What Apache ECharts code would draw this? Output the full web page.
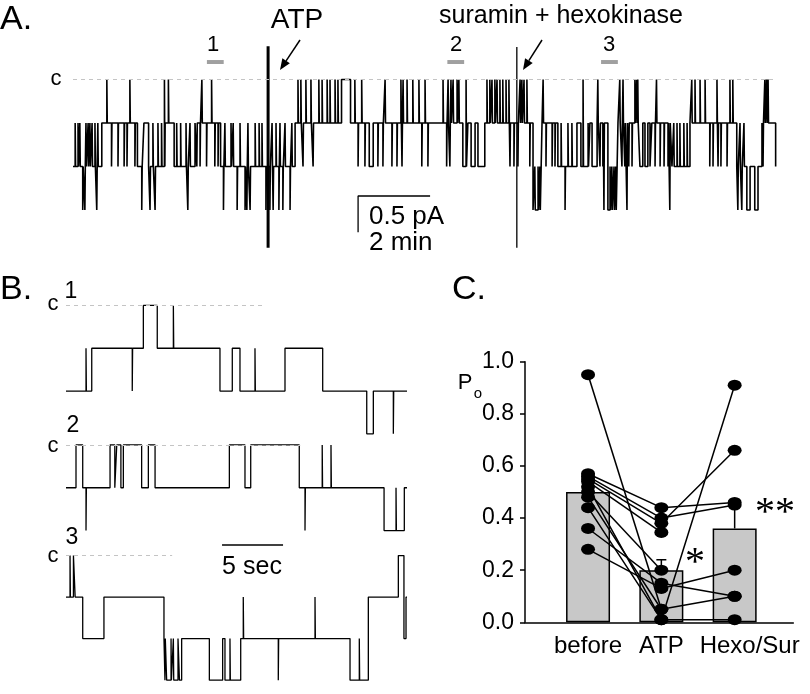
<!DOCTYPE html>
<html><head><meta charset="utf-8">
<script src="https://cdn.jsdelivr.net/npm/echarts@6/dist/echarts.min.js"></script>
<style>html,body{margin:0;padding:0;background:#fff}#c{width:810px;height:694px}</style>
</head><body><div id="c"></div>
<script>
// ================= DATA =================
// Panel A: cell-attached recording, time in minutes, level = number of open channels
const levelsA = [0, -0.6, -1.2, -1.8];            // current (pA) of each level
const dwellA = [[0,2],[0.80,1],[1.79,2],[1.97,1],[2.10,2],[2.56,1],[2.81,2],[3.39,1],[4.10,2],[6.17,1],[7.46,0],[7.71,1],[8.23,2],[8.34,1],[10.83,2],[10.97,1],[11.06,2],[11.17,1],[11.25,2],[11.44,1],[12.78,3],[13.03,1],[13.47,2],[14.00,1],[14.11,2],[14.36,1],[14.42,2],[14.56,1],[14.86,3],[15.14,1],[15.75,2],[15.83,1],[15.89,2],[15.97,1],[16.03,2],[16.08,1],[16.64,2],[17.14,1],[18.44,2],[18.72,3],[18.81,2],[18.94,3],[19.03,2],[19.14,1],[19.52,2],[19.53,2]];
const spikesA = [[0.06,1],[0.14,1],[0.19,1],[0.27,3],[0.33,3],[0.36,1],[0.42,1],[0.47,1],[0.53,1],[0.61,1],[0.66,3],[0.69,1],
  [0.94,0],[1.07,2],[1.25,2],[1.42,2],[1.50,2],[1.58,0],[1.72,2],[1.91,3],
  [2.14,3],[2.22,1],[2.28,3],[2.36,1],[2.46,1],[2.54,0],[2.65,0],
  [2.88,1],[2.99,1],[3.14,1],[3.19,3],[3.25,1],
  [3.44,2],[3.53,2],[3.58,0],[3.71,2],[3.85,0],[3.94,2],[4.03,2],
  [4.18,3],[4.22,1],[4.39,1],[4.45,1],[4.56,3],[4.64,1],[4.78,3],[4.83,3],[4.86,1],[4.92,3],[5.06,1],[5.17,1],[5.25,1],[5.36,3],[5.47,3],[5.53,1],[5.56,3],[5.64,1],[5.72,3],[5.75,1],[5.83,3],[5.89,1],[6.03,3],[6.08,1],
  [6.25,0],[6.33,0],[6.39,2],[6.47,0],[6.61,0],[6.67,2],[6.83,0],[6.92,0],[7.06,0],[7.14,0],[7.28,0],[7.36,0],
  [7.83,0],[7.92,2],[8.02,0],[8.11,2],
  [8.47,2],[8.61,2],[8.67,0],[8.86,2],[9.00,2],[9.11,0],[9.14,2],[9.17,0],[9.28,0],[9.44,0],[9.61,0],[9.69,2],[9.78,0],[9.86,2],[10.28,0],[10.38,2],[10.42,0],[10.47,2],[10.50,0],[10.56,0],[10.67,0],[10.72,0],[10.92,0],
  [11.50,0],[11.58,0],[11.64,0],[11.72,0],[11.78,0],[11.86,0],[11.94,0],[12.03,0],[12.11,0],[12.14,2],[12.25,2],[12.36,2],[12.42,0],[12.47,0],[12.53,0],[12.61,0],[12.69,2],
  [12.83,2],[12.92,2],[12.97,2],
  [13.06,0],[13.14,2],[13.31,2],[13.39,2],
  [13.56,1],[13.67,3],[13.75,1],[13.86,1],
  [14.17,0],[14.31,1],
  [14.58,0],[14.64,2],[14.72,2],[14.75,3],
  [14.92,2],[14.97,2],[15.03,2],[15.08,2],
  [15.19,0],[15.25,2],[15.28,0],[15.33,2],[15.39,3],[15.44,2],[15.53,2],[15.61,0],[15.66,0],[15.69,0],
  [16.17,2],[16.21,0],[16.31,2],[16.42,2],[16.53,2],[16.58,3],
  [16.69,1],[16.78,1],[16.86,1],[16.97,1],[17.06,1],
  [17.19,0],[17.28,0],[17.42,0],[17.56,0],[17.69,2],[17.78,2],[17.89,0],[17.92,2],[18.00,2],[18.17,2],[18.25,0],[18.33,0],
  [18.47,3],[18.53,1],[18.58,3],[18.64,1],
  [19.17,2],[19.22,0],[19.27,0],[19.31,0]];
const artifactsA = [[5.42, 0.46, -2.32, 3], [12.33, 0.45, -2.32, 1.3]]; // time, top pA, bottom pA, stroke
const windowStartsA = [3.72, 10.40, 14.67];  // start (min) of the expanded stretches 1,2,3
const windowNames = ['1', '2', '3'];
const windowLenSec = 28;
const scaleA = { minutes: 2, pA: 0.5 };

// Panel B: expanded stretches, time in seconds
const levelsB = [0, -0.6, -1.2, -1.8];
const dwellB1 = [[0,2],[2.11,1],[6.34,0],[7.48,1],[12.62,2],[13.63,1],[14.26,2],[17.95,1],[21.04,2],[24.65,3],[25.19,2],[27.95,2]];
const spikesB1 = [[1.64,1],[5.43,2],[8.80,0],[15.49,1],[26.83,3]];
const dwellB2 = [[0,1],[0.82,0],[1.37,1],[3.61,0],[4.00,1],[4.16,0],[4.50,1],[4.70,0],[6.20,1],[6.75,0],[7.30,1],[13.39,0],[14.67,1],[15.14,0],[19.12,1],[26.07,2],[27.73,1],[27.95,1]];
const spikesB2 = [[1.64,2],[19.59,2],[21.00,0],[21.72,0],[27.05,1]];
const dwellB3 = [[0,1],[0.61,0],[0.75,1],[1.37,2],[3.11,1],[8.03,2],[8.25,3],[9.18,2],[9.30,3],[9.48,2],[11.75,3],[12.84,2],[13.03,3],[14.32,2],[23.28,3],[24.78,1],[27.24,0],[27.70,2],[27.87,1],[27.95,1]];
const spikesB3 = [[0.33,0],[8.11,3],[8.61,2],[8.80,2],[13.44,2],[14.53,1],[17.40,3],[20.41,1],[24.04,2]];
const dashEndB = [16.3, 19.2, 8.7];
const scaleB = { seconds: 5 };

// Panel C: open probability
const groups = ['before', 'ATP', 'Hexo/Sur'];
const meanPo = [0.50, 0.20, 0.36];
const semPo = [0.05, 0.04, 0.08];
const poBefore = [0.57, 0.56, 0.55, 0.54, 0.95, 0.52, 0.50, 0.48, 0.44, 0.36, 0.28];
const poATP    = [0.44, 0.40, 0.38, 0.345, 0.05, 0.01, 0.20, 0.05, 0.01, 0.15, 0.13];
const poHexo   = [0.46, 0.45, 0.66, null, null, 0.91, null, 0.10, 0.01, 0.10, 0.20];
const poTicks = [0, 0.2, 0.4, 0.6, 0.8, 1.0];

// ================= BUILD =================
const FF = 'Liberation Sans, Arial, sans-serif';
function buildTrace(dwell, spikes, levels, dur) {
  const ev = dwell.map(d => [d[0], d[1]]);
  spikes.forEach(s => {
    let base = dwell[0][1];
    for (const d of dwell) { if (d[0] <= s[0]) base = d[1]; else break; }
    ev.push([s[0], s[1]]); ev.push([s[0] + dur, base]);
  });
  ev.sort((a, b) => a[0] - b[0]);
  return ev.map(e => [e[0], levels[e[1]]]);
}
const grids = [
  { left: 73, top: 36, width: 703, height: 232 },          // A
  { left: 66, top: 291.2, width: 341, height: 156.9 },     // B1
  { left: 66, top: 430.7, width: 341, height: 156.9 },     // B2
  { left: 66, top: 541.7, width: 341, height: 156.9 },     // B3
  { left: 525, top: 361.7, width: 268.3, height: 260.6 }   // C
];
const xAxes = [
  { gridIndex: 0, type: 'value', min: 0, max: 19.53, show: false },
  { gridIndex: 1, type: 'value', min: 0, max: 27.95, show: false },
  { gridIndex: 2, type: 'value', min: 0, max: 27.95, show: false },
  { gridIndex: 3, type: 'value', min: 0, max: 27.95, show: false },
  { gridIndex: 4, type: 'value', min: 0.14, max: 3.8, splitLine: { show: false },
    axisLine: { lineStyle: { color: '#000', width: 1.5 } }, axisTick: { show: false },
    axisLabel: { customValues: [1, 2, 3], margin: 12, color: '#000', fontSize: 24, fontFamily: FF,
      formatter: v => v === 3 ? '{h|' + groups[2] + '}' : groups[Math.round(v) - 1],
      rich: { h: { fontSize: 24, fontFamily: FF, color: '#000', padding: [0, 0, 0, 30] } } } }
];
const yAxes = [
  { gridIndex: 0, type: 'value', min: -2.6, max: 0.6, show: false },
  { gridIndex: 1, type: 'value', min: -2.0, max: 0.2, show: false },
  { gridIndex: 2, type: 'value', min: -2.0, max: 0.2, show: false },
  { gridIndex: 3, type: 'value', min: -2.0, max: 0.2, show: false },
  { gridIndex: 4, type: 'value', min: 0, max: 1, interval: 0.2, splitLine: { show: false },
    axisLine: { show: true, lineStyle: { color: '#000', width: 1.5 } },
    axisTick: { show: true, length: 5, lineStyle: { color: '#000', width: 1.5 } },
    axisLabel: { customValues: poTicks, margin: 11, color: '#000', fontSize: 23, fontFamily: FF, formatter: v => v.toFixed(1) } }
];
const series = [];
const dashStyle = { color: '#c4c4c4', width: 1, type: [4, 4] };
// Panel A trace
series.push({ type: 'line', xAxisIndex: 0, yAxisIndex: 0, step: 'end', showSymbol: false, silent: true,
  data: buildTrace(dwellA, spikesA, levelsA, 0.012), lineStyle: { color: '#000', width: 1.6 },
  markLine: { silent: true, symbol: 'none', label: { show: false }, lineStyle: dashStyle, data: [{ yAxis: levelsA[0] }] } });
artifactsA.forEach(a => series.push({ type: 'line', xAxisIndex: 0, yAxisIndex: 0, showSymbol: false, silent: true,
  data: [[a[0], a[1]], [a[0], a[2]]], lineStyle: { color: '#000', width: a[3] } }));
windowStartsA.forEach(t => series.push({ type: 'line', xAxisIndex: 0, yAxisIndex: 0, showSymbol: false, silent: true,
  data: [[t, 0.241], [t + windowLenSec / 60, 0.241]], lineStyle: { color: '#a0a0a0', width: 4, cap: 'butt' } }));
series.push({ type: 'line', xAxisIndex: 0, yAxisIndex: 0, showSymbol: false, silent: true,
  data: [[7.92, -1.607 - scaleA.pA], [7.92, -1.607], [7.92 + scaleA.minutes, -1.607]], lineStyle: { color: '#000', width: 1.3 } });
// Panel B traces
[[dwellB1, spikesB1], [dwellB2, spikesB2], [dwellB3, spikesB3]].forEach((tr, i) => {
  series.push({ type: 'line', xAxisIndex: i + 1, yAxisIndex: i + 1, step: 'end', showSymbol: false, silent: true,
    data: buildTrace(tr[0], tr[1], levelsB, 0.03), lineStyle: { color: '#000', width: 1.3 },
    markLine: { silent: true, symbol: 'none', label: { show: false }, lineStyle: dashStyle,
      data: [[{ coord: [0, levelsB[0]] }, { coord: [dashEndB[i], levelsB[0]] }]] } });
});
series.push({ type: 'line', xAxisIndex: 3, yAxisIndex: 3, showSymbol: false, silent: true,
  data: [[12.79, 0.154], [12.79 + scaleB.seconds, 0.154]], lineStyle: { color: '#000', width: 1.5 } });
// Panel C
series.push({ type: 'bar', xAxisIndex: 4, yAxisIndex: 4, barWidth: 44, silent: true,
  data: meanPo.map((m, i) => [i + 1, m]), itemStyle: { color: '#c8c8c8', borderColor: '#000', borderWidth: 1.5 } });
series.push({ type: 'custom', xAxisIndex: 4, yAxisIndex: 4, silent: true, encode: { x: 0, y: [1, 2] },
  data: meanPo.map((m, i) => [i + 1, m, m + semPo[i]]),
  renderItem: (params, api) => {
    const p0 = api.coord([api.value(0), api.value(1)]), p1 = api.coord([api.value(0), api.value(2)]);
    const st = { stroke: '#000', lineWidth: 1.5 };
    return { type: 'group', children: [
      { type: 'line', shape: { x1: p0[0], y1: p0[1], x2: p1[0], y2: p1[1] }, style: st },
      { type: 'line', shape: { x1: p1[0] - 5, y1: p1[1], x2: p1[0] + 5, y2: p1[1] }, style: st } ] };
  } });
poBefore.forEach((b, i) => {
  const pts = [[1, b], [2, poATP[i]]];
  if (poHexo[i] !== null) pts.push([3, poHexo[i]]);
  series.push({ type: 'line', xAxisIndex: 4, yAxisIndex: 4, showSymbol: false, silent: true, data: pts,
    lineStyle: { color: '#000', width: 1.5 } });
});
[poBefore, poATP, poHexo].forEach((arr, g) => series.push({ type: 'scatter', xAxisIndex: 4, yAxisIndex: 4, silent: true,
  symbol: 'circle', symbolSize: [14, 11], itemStyle: { color: '#000', opacity: 1 },
  data: arr.filter(v => v !== null).map(v => [g + 1, v]) }));

// ================= TEXT / ANNOTATIONS =================
function txt(text, x, y, size, align, family) {
  return { type: 'text', silent: true, style: { text, x, y, font: size + 'px ' + (family || FF), fill: '#000',
    align: align || 'center', verticalAlign: 'middle', textAlign: align || 'center', textVerticalAlign: 'middle' } };
}
function arrow(x1, y1, x2, y2) {
  const dx = x2 - x1, dy = y2 - y1, L = Math.hypot(dx, dy), ux = dx / L, uy = dy / L, h = 11, w = 4.5;
  const bx = x2 - ux * h, by = y2 - uy * h;
  return [
    { type: 'line', silent: true, shape: { x1, y1, x2: bx, y2: by }, style: { stroke: '#000', lineWidth: 1.5 } },
    { type: 'polygon', silent: true, shape: { points: [[x2, y2], [bx - uy * w, by + ux * w], [bx + uy * w, by - ux * w]] }, style: { fill: '#000' } }
  ];
}
const graphics = [
  txt('A.', 0, 20, 34, 'left'), txt('B.', 0, 290, 34, 'left'), txt('C.', 452, 290, 34, 'left'),
  txt('ATP', 297, 20, 28), txt('suramin + hexokinase', 561, 16, 25),
  txt(windowNames[0], 213, 45, 22), txt(windowNames[1], 456, 45, 22), txt(windowNames[2], 609, 45, 22),
  txt('c', 56, 79, 22),
  txt('0.5 pA', 369, 217, 26, 'left'), txt('2 min', 369, 243, 26, 'left'),
  txt('c', 53, 304, 22), txt('1', 71, 292, 23),
  txt('c', 53, 446, 22), txt('2', 73, 426, 23),
  txt('c', 53, 556, 22), txt('3', 72, 538, 23),
  txt('5 sec', 252, 567, 25),
  txt('P', 465, 383, 22), txt('o', 478, 394, 15),
  txt('*', 695, 563, 40, 'center', 'Liberation Serif, serif'),
  txt('**', 775, 513, 40, 'center', 'Liberation Serif, serif'),
  ...arrow(300, 40, 280, 70), ...arrow(542, 40, 523, 70)
];

const chart = echarts.init(document.getElementById('c'), null, { renderer: 'canvas' });
chart.setOption({ animation: false, backgroundColor: '#fff', textStyle: { fontFamily: FF },
  grid: grids, xAxis: xAxes, yAxis: yAxes, series, graphic: { elements: graphics } });
</script></body></html>
